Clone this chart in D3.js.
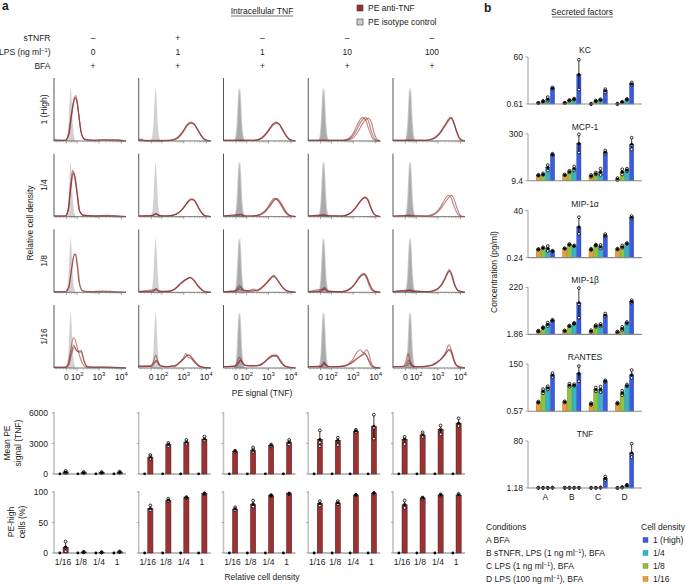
<!DOCTYPE html>
<html><head><meta charset="utf-8">
<script src="https://cdn.jsdelivr.net/npm/d3@7"></script>
<style>body{margin:0;background:#fff}svg{display:block;font-family:"Liberation Sans",Arial,Helvetica,sans-serif}</style>
</head><body><svg id="chart" width="685" height="584"></svg>
<script>
// ---------------- DATA : panel a ----------------
const conditions = [0,1,2,3,4];
const sTNFR = ["–","+","–","–","–"];
const LPS = ["0","1","1","10","100"];
const BFA = ["+","+","+","+","+"];
const densityRows = ["1 (High)","1/4","1/8","1/16"];
const densityBars = ["1/16","1/8","1/4","1"];
const histTickVals = [1.55, 2.03, 3, 4];
const histTickBase = ["0","10","10","10"];
const histTickExp = ["","2","3","4"];
const isoCenters = [[1.74],[1.75],[1.68,1.71,1.74],[1.65,1.68,1.71],[1.73,1.76,1.79]];
const isoPeak = [0.84,0.87,0.86,0.88];
const isoShape = [[-0.23,0],[-0.16,0.07],[-0.1,0.3],[-0.04,0.8],[0,1],[0.04,0.8],[0.1,0.3],[0.16,0.07],[0.23,0]];

const histRow1 = [
 [[[1,.02],[1.15,.01],[1.5,.01],[1.65,.12],[1.78,.45],[1.9,.68],[1.97,.72],[2.07,.5],[2.2,.15],[2.35,.03],[2.7,.01],[3.1,.02],[3.5,.01],[3.8,.02],[4.2,0]],
  [[1,.01],[1.5,.01],[1.65,.1],[1.78,.42],[1.9,.66],[1.98,.69],[2.08,.48],[2.2,.14],[2.35,.03],[2.8,.01],[3.3,.02],[3.7,.01],[4.2,0]],
  [[1,.02],[1.5,.01],[1.66,.1],[1.8,.44],[1.92,.68],[2.0,.66],[2.1,.42],[2.22,.12],[2.4,.02],[3.0,.01],[3.6,.02],[4.2,0]]],
 [[[1,.01],[1.1,.03],[1.2,.01],[1.6,0],[2.4,.01],[2.7,.04],[2.95,.13],[3.15,.24],[3.3,.29],[3.45,.27],[3.6,.19],[3.75,.1],[3.9,.03],[4.05,0],[4.2,0]],
  [[1,.01],[1.1,.02],[1.3,.01],[2.4,.01],[2.7,.05],[2.95,.15],[3.15,.25],[3.32,.28],[3.47,.26],[3.62,.18],[3.78,.08],[3.95,.02],[4.2,0]],
  [[1,.01],[1.6,0],[2.4,.01],[2.7,.04],[2.95,.14],[3.13,.25],[3.28,.3],[3.43,.28],[3.58,.2],[3.74,.1],[3.9,.03],[4.2,0]]],
 [[[1,.01],[1.7,.01],[2.3,.01],[2.6,.03],[2.9,.12],[3.1,.22],[3.28,.29],[3.43,.28],[3.58,.2],[3.75,.1],[3.92,.03],[4.2,0]],
  [[1,.01],[1.7,.01],[2.4,.01],[2.7,.05],[2.95,.15],[3.15,.25],[3.32,.3],[3.47,.27],[3.62,.18],[3.8,.07],[3.95,.02],[4.2,0]],
  [[1,.01],[2.4,.01],[2.7,.04],[2.95,.13],[3.15,.23],[3.35,.28],[3.5,.26],[3.65,.17],[3.82,.07],[4.0,.01],[4.2,0]]],
 [[[1,.01],[2.5,.01],[2.8,.04],[3.0,.12],[3.2,.27],[3.4,.37],[3.55,.33],[3.7,.18],[3.85,.05],[4.0,.01],[4.2,0]],
  [[1,.01],[2.6,.01],[2.9,.05],[3.1,.14],[3.3,.28],[3.53,.37],[3.67,.32],[3.8,.16],[3.95,.04],[4.1,0],[4.2,0]],
  [[1,.01],[2.7,.01],[3.0,.05],[3.2,.14],[3.42,.28],[3.66,.36],[3.8,.3],[3.92,.14],[4.05,.03],[4.2,0]]],
 [[[1,.01],[2.4,.01],[2.7,.03],[3.0,.1],[3.25,.22],[3.45,.34],[3.55,.38],[3.65,.33],[3.8,.18],[3.95,.04],[4.1,0],[4.2,0]],
  [[1,.01],[2.5,.01],[2.8,.04],[3.05,.11],[3.3,.24],[3.5,.35],[3.6,.37],[3.7,.3],[3.85,.13],[4.0,.03],[4.2,0]],
  [[1,.01],[2.5,.01],[2.8,.03],[3.05,.1],[3.3,.23],[3.5,.33],[3.58,.36],[3.68,.31],[3.82,.15],[3.98,.03],[4.2,0]]]
];
const histRow2 = [
 [[[1,.01],[1.5,.01],[1.62,.1],[1.74,.5],[1.83,.74],[1.9,.66],[2.0,.42],[2.12,.1],[2.3,.02],[2.8,.01],[3.4,.02],[3.9,.01],[4.2,0]],
  [[1,.01],[1.5,.01],[1.63,.1],[1.75,.48],[1.85,.7],[1.93,.64],[2.02,.4],[2.14,.09],[2.3,.02],[3.0,.01],[3.6,.01],[4.2,0]],
  [[1,.01],[1.5,.01],[1.64,.12],[1.76,.5],[1.86,.68],[1.95,.6],[2.04,.36],[2.15,.08],[2.35,.02],[4.2,0]]],
 [[[1,.01],[1.5,.01],[1.65,.03],[1.76,.05],[1.9,.02],[2.2,.01],[2.6,.03],[2.9,.1],[3.15,.22],[3.3,.28],[3.45,.26],[3.6,.17],[3.78,.07],[3.95,.01],[4.2,0]],
  [[1,.01],[1.6,.02],[1.76,.04],[1.9,.02],[2.3,.01],[2.65,.04],[2.95,.12],[3.2,.24],[3.35,.27],[3.5,.25],[3.65,.15],[3.82,.05],[4.0,.01],[4.2,0]],
  [[1,.01],[1.65,.02],[1.78,.05],[1.95,.01],[2.5,.02],[2.8,.07],[3.05,.17],[3.25,.26],[3.4,.28],[3.55,.22],[3.72,.1],[3.9,.02],[4.2,0]]],
 [[[1,.01],[1.65,.02],[1.76,.04],[1.9,.01],[2.4,.01],[2.7,.05],[2.95,.14],[3.12,.24],[3.25,.29],[3.4,.26],[3.55,.18],[3.72,.08],[3.9,.02],[4.2,0]],
  [[1,.01],[1.7,.03],[1.8,.03],[2.0,.01],[2.5,.02],[2.8,.07],[3.05,.17],[3.22,.25],[3.36,.29],[3.5,.25],[3.65,.16],[3.82,.06],[4.0,.01],[4.2,0]],
  [[1,.01],[1.75,.03],[2.0,.01],[2.5,.02],[2.8,.06],[3.05,.16],[3.25,.26],[3.32,.28],[3.48,.24],[3.64,.15],[3.8,.06],[4.0,.01],[4.2,0]]],
 [[[1,.01],[1.62,.02],[1.72,.03],[1.85,.01],[2.5,.01],[2.8,.04],[3.05,.12],[3.3,.24],[3.5,.31],[3.62,.28],[3.76,.16],[3.9,.05],[4.05,.01],[4.2,0]],
  [[1,.01],[1.7,.03],[1.85,.01],[2.5,.01],[2.85,.05],[3.1,.13],[3.33,.25],[3.53,.3],[3.65,.26],[3.78,.14],[3.92,.04],[4.2,0]],
  [[1,.01],[1.72,.02],[2.5,.01],[2.85,.05],[3.1,.14],[3.35,.26],[3.55,.31],[3.66,.27],[3.8,.13],[3.95,.03],[4.2,0]]],
 [[[1,.01],[1.7,.02],[1.85,.01],[2.5,.01],[2.8,.04],[3.05,.12],[3.28,.26],[3.45,.34],[3.58,.3],[3.72,.16],[3.88,.04],[4.05,0],[4.2,0]],
  [[1,.01],[1.72,.02],[2.6,.01],[2.9,.05],[3.15,.14],[3.38,.26],[3.6,.34],[3.72,.27],[3.86,.12],[4.0,.02],[4.2,0]]]
];
const histRow3 = [
 [[[1,.01],[1.5,.01],[1.65,.08],[1.78,.38],[1.88,.58],[1.94,.61],[2.02,.45],[2.12,.14],[2.25,.03],[2.6,.01],[3.2,.02],[3.7,.01],[4.2,0]],
  [[1,.01],[1.5,.01],[1.66,.08],[1.8,.4],[1.9,.6],[1.97,.6],[2.05,.42],[2.15,.12],[2.3,.02],[3.0,.01],[4.2,0]]],
 [[[1,.01],[1.6,.01],[1.7,.04],[1.77,.06],[1.86,.03],[2.0,.01],[2.3,.01],[2.55,.04],[2.8,.12],[3.0,.18],[3.15,.21],[3.27,.24],[3.42,.2],[3.58,.13],[3.75,.06],[3.9,.01],[4.2,0]],
  [[1,.01],[1.65,.02],[1.76,.05],[1.9,.02],[2.3,.02],[2.6,.05],[2.85,.14],[3.05,.2],[3.25,.23],[3.4,.21],[3.56,.14],[3.72,.07],[3.9,.02],[4.2,0]],
  [[1,.01],[1.75,.04],[1.95,.01],[2.4,.02],[2.7,.08],[2.95,.16],[3.15,.21],[3.3,.24],[3.45,.19],[3.62,.1],[3.8,.04],[4.0,0],[4.2,0]]],
 [[[1,.01],[1.5,.02],[1.62,.07],[1.71,.11],[1.8,.07],[1.95,.03],[2.2,.02],[2.45,.03],[2.7,.08],[2.95,.17],[3.12,.24],[3.22,.27],[3.35,.22],[3.5,.14],[3.68,.06],[3.85,.02],[4.2,0]],
  [[1,.01],[1.55,.02],[1.66,.06],[1.75,.08],[1.85,.04],[2.05,.02],[2.35,.05],[2.5,.02],[2.75,.09],[3.0,.18],[3.2,.25],[3.32,.23],[3.48,.15],[3.65,.07],[3.82,.02],[4.2,0]],
  [[1,.01],[1.6,.03],[1.72,.05],[1.85,.03],[2.1,.02],[2.6,.04],[2.85,.12],[3.05,.2],[3.25,.26],[3.4,.2],[3.58,.1],[3.78,.03],[4.0,.01],[4.2,0]]],
 [[[1,.01],[1.55,.02],[1.65,.05],[1.72,.08],[1.8,.05],[1.95,.01],[2.5,.01],[2.8,.04],[3.05,.12],[3.28,.24],[3.45,.3],[3.57,.26],[3.7,.14],[3.85,.04],[4.0,.01],[4.2,0]],
  [[1,.01],[1.6,.02],[1.72,.06],[1.85,.02],[2.5,.01],[2.85,.06],[3.1,.15],[3.3,.26],[3.5,.29],[3.62,.24],[3.75,.12],[3.9,.03],[4.2,0]],
  [[1,.01],[1.7,.05],[1.85,.02],[2.6,.01],[2.9,.06],[3.15,.17],[3.35,.26],[3.48,.28],[3.6,.22],[3.72,.1],[3.88,.02],[4.2,0]]],
 [[[1,.01],[1.65,.02],[1.76,.04],[1.9,.01],[2.5,.01],[2.8,.03],[3.05,.08],[3.25,.18],[3.4,.3],[3.49,.36],[3.58,.3],[3.7,.15],[3.85,.04],[4.0,.01],[4.2,0]],
  [[1,.01],[1.7,.03],[1.85,.01],[2.6,.01],[2.9,.04],[3.12,.1],[3.3,.2],[3.45,.32],[3.53,.34],[3.63,.27],[3.75,.12],[3.9,.03],[4.2,0]],
  [[1,.01],[1.75,.03],[2.6,.01],[2.9,.03],[3.1,.09],[3.3,.21],[3.44,.31],[3.52,.33],[3.62,.26],[3.74,.12],[3.88,.03],[4.2,0]]]
];
const histRow4 = [
 [[[1,.01],[1.5,.01],[1.62,.06],[1.75,.3],[1.86,.48],[1.95,.44],[2.05,.3],[2.15,.18],[2.28,.06],[2.45,.01],[3.2,.02],[3.8,.01],[4.2,0]],
  [[1,.01],[1.5,.01],[1.64,.06],[1.77,.26],[1.88,.36],[1.97,.3],[2.07,.26],[2.2,.28],[2.3,.15],[2.45,.03],[2.7,.01],[3.4,.01],[4.2,0]],
  [[1,.01],[1.55,.01],[1.66,.05],[1.78,.22],[1.9,.33],[2.0,.28],[2.12,.25],[2.22,.26],[2.33,.12],[2.5,.02],[4.2,0]]],
 [[[1,.03],[1.5,.03],[1.65,.1],[1.76,.2],[1.86,.1],[2.0,.03],[2.3,.02],[2.5,.04],[2.6,.02],[2.8,.08],[2.95,.14],[3.1,.23],[3.2,.17],[3.3,.16],[3.45,.1],[3.62,.04],[3.8,.01],[4.2,0]],
  [[1,.03],[1.55,.03],[1.68,.08],[1.78,.12],[1.88,.07],[2.0,.03],[2.4,.02],[2.7,.05],[2.9,.11],[3.05,.16],[3.2,.21],[3.32,.18],[3.5,.1],[3.68,.04],[3.85,.01],[4.2,0]],
  [[1,.02],[1.6,.03],[1.72,.09],[1.8,.11],[1.92,.04],[2.2,.02],[2.6,.04],[2.85,.1],[3.0,.15],[3.15,.2],[3.25,.2],[3.4,.14],[3.58,.06],[3.78,.02],[4.2,0]]],
 [[[1,.02],[1.5,.03],[1.62,.1],[1.7,.17],[1.8,.12],[1.92,.05],[2.1,.04],[2.4,.03],[2.65,.05],[2.85,.1],[3.05,.18],[3.15,.2],[3.28,.18],[3.38,.2],[3.5,.14],[3.65,.06],[3.8,.02],[4.2,0]],
  [[1,.02],[1.55,.03],[1.66,.08],[1.74,.12],[1.84,.08],[2.0,.04],[2.3,.04],[2.6,.04],[2.9,.12],[3.1,.17],[3.22,.2],[3.35,.19],[3.48,.13],[3.62,.06],[3.8,.02],[4.2,0]],
  [[1,.02],[1.6,.04],[1.7,.1],[1.78,.13],[1.88,.07],[2.05,.03],[2.5,.04],[2.8,.09],[3.0,.15],[3.12,.18],[3.3,.21],[3.42,.17],[3.56,.09],[3.72,.03],[4.2,0]]],
 [[[1,.02],[1.55,.02],[1.64,.06],[1.7,.1],[1.78,.05],[1.95,.02],[2.4,.02],[2.7,.05],[2.95,.12],[3.15,.24],[3.31,.29],[3.42,.25],[3.55,.22],[3.68,.12],[3.8,.03],[4.0,0],[4.2,0]],
  [[1,.02],[1.6,.03],[1.7,.08],[1.8,.04],[2.0,.02],[2.6,.03],[2.9,.07],[3.15,.14],[3.35,.2],[3.48,.24],[3.6,.29],[3.7,.22],[3.82,.06],[3.95,.01],[4.2,0]],
  [[1,.02],[1.62,.03],[1.7,.07],[1.8,.04],[2.0,.02],[2.6,.03],[2.9,.08],[3.15,.15],[3.35,.19],[3.5,.22],[3.62,.18],[3.75,.08],[3.9,.02],[4.2,0]]],
 [[[1,.02],[1.45,.02],[1.57,.1],[1.67,.23],[1.77,.1],[1.9,.03],[2.2,.02],[2.5,.03],[2.75,.04],[3.0,.1],[3.2,.17],[3.35,.26],[3.49,.37],[3.6,.27],[3.72,.12],[3.85,.03],[4.0,0],[4.2,0]],
  [[1,.02],[1.5,.02],[1.6,.07],[1.7,.12],[1.8,.06],[1.95,.02],[2.4,.02],[2.7,.05],[2.95,.09],[3.2,.16],[3.35,.22],[3.5,.3],[3.6,.26],[3.72,.12],[3.86,.03],[4.2,0]],
  [[1,.02],[1.62,.04],[1.72,.08],[1.82,.04],[2.0,.02],[2.6,.03],[2.9,.07],[3.1,.13],[3.3,.21],[3.45,.28],[3.55,.27],[3.68,.14],[3.82,.04],[4.2,0]]]
];

const meanTicks = [0,3000,6000];
const meanPE = [[200,150,150,180],[1645,2900,3130,3420],[2226,2320,2806,3130],[3420,3320,4225,4710],[3420,3840,4355,5000]];
const meanPEReps = [
 [[120,200,300],[100,150,200],[110,150,190],[130,180,230]],
 [[1870,1710,1480],[3060,2900,2740],[3350,3130,2970],[3680,3420,3290]],
 [[2290,2230,2160],[2610,2420,2160],[2900,2810,2710],[3350,3130,2900]],
 [[4290,3100,2740],[3580,3260,2840],[4350,4230,4130],[5840,4550,3480]],
 [[3650,3390,2935],[4100,3900,3650],[4770,4390,3900],[5480,4940,4710]]];
const isoMeanPE = [20,20,20,20];
const pctTicks = [0,50,100];
const pctHigh = [[9.6,1.5,1,2],[73,86.6,91,97.3],[72,80,94,97.3],[81,82,95,98],[79,90,95,95]];
const pctHighReps = [
 [[18.7,9,2.7],[1,1.5,2],[0.8,1,1.2],[1.5,2,2.5]],
 [[78,72,70],[89,86,85],[91.5,91,90.5],[97.5,97,97.5]],
 [[75,72,70],[86,80,76],[95,94,93.5],[97.5,97.3,97]],
 [[85,81,78],[85,82,80],[95.5,95,94.5],[98.5,98,97.5]],
 [[86,79,74],[91,90,89],[96,95,94.5],[97,95,94]]];
const isoPct = [0,0,0,0];

// ---------------- DATA : panel b ----------------
const factors = ["KC","MCP-1","MIP-1α","MIP-1β","RANTES","TNF"];
const factorMin = [0.61,9.4,0.24,1.86,0.57,1.18];
const factorMax = [60,300,40,220,150,80];
const factorMinLabel = ["0.61","9.4","0.24","1.86","0.57","1.18"];
const factorMaxLabel = ["60","300","40","220","150","80"];
const condB = ["A","B","C","D"];
const densB = ["1/16","1/8","1/4","1 (High)"];
const densColors = ["#f29a32","#8dc43d","#33b4c7","#3b5be0"];
const kcVals = [[0.67,0.79,0.99,2.9],[0.68,0.87,0.99,10.7],[0.62,0.82,0.93,2.25],[0.62,0.74,0.96,4.4]];
const kcReps = [
 [[0.66,0.67,0.68],[0.77,0.79,0.82],[0.85,0.98,1.2],[2.7,2.9,3.1]],
 [[0.67,0.68,0.69],[0.84,0.87,0.9],[0.95,0.99,1.04],[46,10.6,2.5]],
 [[0.61,0.62,0.63],[0.8,0.82,0.85],[0.88,0.93,0.98],[1.9,2.3,2.6]],
 [[0.61,0.62,0.63],[0.72,0.74,0.76],[0.92,0.96,1.0],[3.9,4.4,5.0]]];
const mcpVals = [[14.2,15.3,24.9,66],[14.6,18.6,23.2,144],[13.6,16.1,18.1,78],[10.6,18.1,21,140]];
const mcpReps = [
 [[13.8,14.2,14.6],[14.6,15.3,16.2],[20,25,30],[63,66,69]],
 [[14.2,14.6,15],[17.5,18.6,19.8],[20,23,27],[285,144,75]],
 [[12.8,13.6,14.4],[15,16,17.3],[14.5,18,23],[70,78,88]],
 [[9.8,10.6,11.5],[15,18,22],[19,21,23],[224,130,95]]];
const mip1aVals = [[0.59,0.70,0.65,0.49],[0.65,1.0,0.87,6.7],[0.59,0.93,0.78,2.7],[0.61,0.78,1.12,19.5]];
const mip1aReps = [
 [[0.57,0.59,0.61],[0.66,0.7,0.74],[0.5,0.65,0.85],[0.47,0.49,0.51]],
 [[0.63,0.65,0.67],[0.95,1.0,1.05],[0.84,0.87,0.9],[19.5,6.5,3.2]],
 [[0.55,0.59,0.63],[0.88,0.93,0.98],[0.65,0.78,0.95],[2.4,2.7,3.1]],
 [[0.58,0.61,0.64],[0.7,0.78,0.9],[1.08,1.12,1.16],[17,19.5,22]]];
const mip1bVals = [[2.62,3.7,5.2,7.8],[2.7,4.4,5.7,47],[2.62,4.4,4.8,13.4],[2.4,3.4,6.1,53]];
const mip1bReps = [
 [[2.5,2.62,2.75],[3.5,3.7,3.9],[4.3,5.2,6.2],[7.4,7.8,8.2]],
 [[2.6,2.7,2.8],[4.2,4.4,4.6],[5.4,5.7,6.0],[205,40,10.2]],
 [[2.4,2.62,2.85],[4.0,4.4,4.8],[4.2,4.8,5.4],[11.5,13.4,15.5]],
 [[2.3,2.4,2.5],[2.9,3.4,4.0],[5.6,6.1,6.6],[47,53,60]]];
const rantesVals = [[1.67,6.2,9.2,41.8],[1.73,12.7,12.7,48.8],[1.36,7.5,7.5,20.4],[1.48,5.0,12.1,41.8]];
const rantesReps = [
 [[1.55,1.67,1.8],[4.8,6.2,7.8],[7.5,9.2,11],[33,42,52]],
 [[1.6,1.73,1.85],[10.5,12.7,15],[11.5,12.7,14],[120,49,20]],
 [[1.2,1.36,1.5],[6,7.5,9.5],[5.5,7.5,10.5],[18.5,20.4,22.5]],
 [[1.35,1.48,1.6],[3.8,5.0,6.5],[11,12.1,13.5],[30,42,75]]];
const tnfVals = [[1.2,1.2,1.2,1.21],[1.2,1.2,1.2,1.2],[1.2,1.2,1.22,2.8],[1.19,1.25,1.51,27.7]];
const tnfReps = [
 [[1.19,1.2,1.21],[1.19,1.2,1.21],[1.19,1.2,1.21],[1.2,1.21,1.22]],
 [[1.19,1.2,1.21],[1.19,1.2,1.21],[1.19,1.2,1.21],[1.19,1.2,1.21]],
 [[1.19,1.2,1.21],[1.19,1.2,1.21],[1.2,1.22,1.24],[2.4,2.8,3.3]],
 [[1.18,1.19,1.2],[1.22,1.25,1.28],[1.45,1.51,1.58],[19,25,63]]];
const conditionText = ["BFA","sTNFR, LPS (1 ng ml|−1|), BFA","LPS (1 ng ml|−1|), BFA","LPS (100 ng ml|−1|), BFA"];
const legendDens = ["1 (High)","1/4","1/8","1/16"];
const legendDensColors = ["#3b5be0","#33b4c7","#8dc43d","#f29a32"];

// ---------------- DRAWING ----------------
const svg = d3.select("#chart");
const FS = 8.5, INK = "#1a1a1a", RED = "#9c3232";

function supText(sel, parts, size) {
  parts.split("|").forEach((p, i) => {
    if (!p) return;
    const t = sel.append("tspan").text(p);
    if (i % 2 === 1) t.attr("font-size", size*0.68).attr("dy", -size*0.38);
    else if (i > 0) t.attr("dy", size*0.38);
  });
  return sel;
}
function label(x, y, s, o = {}) {
  const t = svg.append("text").attr("x", x).attr("y", y)
    .attr("font-size", o.size || FS).attr("fill", INK)
    .attr("text-anchor", o.anchor || "start")
    .attr("font-weight", o.bold ? "bold" : null);
  if (o.rotate) t.attr("transform", `rotate(-90,${x},${y})`);
  supText(t, s, o.size || FS);
  return t;
}

// panel letters, titles
label(2, 10, "a", {size: 12, bold: true});
label(484, 12, "b", {size: 12, bold: true});
label(262, 14, "Intracellular TNF", {anchor: "middle"});
svg.append("line").attr("x1", 231).attr("x2", 293).attr("y1", 16).attr("y2", 16).attr("stroke", INK).attr("stroke-width", 0.6);
label(582, 15, "Secreted factors", {anchor: "middle"});
svg.append("line").attr("x1", 552).attr("x2", 613).attr("y1", 17).attr("y2", 17).attr("stroke", INK).attr("stroke-width", 0.6);

// legend a
[["PE anti-TNF", RED], ["PE isotype control", "#cfcfcf"]].forEach((d, i) => {
  svg.append("rect").attr("x", 357).attr("y", 5 + i*14).attr("width", 6).attr("height", 6)
    .attr("fill", d[1]).attr("stroke", "#333").attr("stroke-width", 0.6);
  label(368, 11 + i*14, d[0]);
});

// scales panel a
const colX = d3.scaleBand().domain(conditions).range([54, 465]).paddingInner(0.15).paddingOuter(0);
const rowY = d3.scaleBand().domain(d3.range(4)).range([78, 368]).paddingInner(0.168);
const W = colX.bandwidth(), H = rowY.bandwidth();
const ux = d3.scaleLinear().domain([1.0, 4.2]).range([0, W]);
const hy = d3.scaleLinear().domain([0, 1]).range([H, 0]);

// header rows
label(50.5, 41, "sTNFR", {anchor: "end"});
label(50.5, 55, "LPS (ng ml|−1|)", {anchor: "end"});
label(50.5, 69, "BFA", {anchor: "end"});
conditions.forEach(c => {
  const x = colX(c) + 39;
  label(x, 41, sTNFR[c], {anchor: "middle"});
  label(x, 55, LPS[c], {anchor: "middle"});
  label(x, 69, BFA[c], {anchor: "middle"});
});

// histograms
const histRows = [histRow1, histRow2, histRow3, histRow4];
const isoArea = d3.area().x(d => ux(d[0])).y0(H).y1(d => hy(d[1])).curve(d3.curveMonotoneX);
const curveLine = d3.line().x(d => ux(d[0])).y(d => hy(d[1])).curve(d3.curveMonotoneX);
const minorTicks = [];
[1, 2, 3].forEach(dec => d3.range(2, 10).forEach(k => { const v = dec + Math.log10(k); if (v > 1.65 && v < 4.2) minorTicks.push(v); }));
[1.1, 1.25, 1.4].forEach(v => minorTicks.push(v));

histRows.forEach((row, r) => {
  conditions.forEach(c => {
    const g = svg.append("g").attr("transform", `translate(${colX(c)},${rowY(r)})`);
    isoCenters[c].forEach(ctr => {
      g.append("path").attr("d", isoArea(isoShape.map(p => [ctr + p[0], p[1]*isoPeak[r]])))
        .attr("fill", "#9a9a9a").attr("fill-opacity", 0.45);
    });
    row[c].forEach(cv => {
      g.append("path").attr("d", curveLine(cv)).attr("fill", "none")
        .attr("stroke", "#8a2727").attr("stroke-opacity", 0.55).attr("stroke-width", 1.15);
    });
    g.append("line").attr("x1", 0).attr("x2", 0).attr("y1", 0).attr("y2", H).attr("stroke", "#555").attr("stroke-width", 1);
    g.append("line").attr("x1", 0).attr("x2", W).attr("y1", H).attr("y2", H).attr("stroke", "#666").attr("stroke-width", 0.9);
    histTickVals.forEach(v => g.append("line").attr("x1", ux(v)).attr("x2", ux(v)).attr("y1", H).attr("y2", H + 2.5).attr("stroke", "#666").attr("stroke-width", 0.6));
    minorTicks.forEach(v => g.append("line").attr("x1", ux(v)).attr("x2", ux(v)).attr("y1", H).attr("y2", H + 1.5).attr("stroke", "#888").attr("stroke-width", 0.5));
    if (r === 3) {
      histTickVals.forEach((v, i) => {
        const t = g.append("text").attr("x", ux(v)).attr("y", H + 12).attr("font-size", 8.5).attr("fill", INK).attr("text-anchor", "middle");
        t.append("tspan").text(histTickBase[i]);
        if (histTickExp[i]) t.append("tspan").text(histTickExp[i]).attr("font-size", 6).attr("dy", -3.5);
      });
    }
  });
  label(47, rowY(r) + H/2, densityRows[r], {anchor: "middle", rotate: true});
});
label(33, (78 + 368)/2, "Relative cell density", {anchor: "middle", rotate: true});
label(262, 396, "PE signal (TNF)", {anchor: "middle"});

// bar panels in a
const xg = d3.scaleBand().domain(densityBars).range([0, W]);
const xs = d3.scaleBand().domain(["iso", "anti"]).range([3, 14.5]);
const yMean = d3.scaleLinear().domain([0, 6000]).range([474, 413]);
const yPct = d3.scaleLinear().domain([0, 100]).range([553, 492]);

function dots(g, cx, y, reps, mean) {
  const ext = d3.extent(reps);
  g.append("line").attr("x1", cx).attr("x2", cx).attr("y1", y(ext[0])).attr("y2", y(ext[1])).attr("stroke", "#000").attr("stroke-width", 0.8);
  reps.forEach(v => g.append("circle").attr("cx", cx).attr("cy", y(v)).attr("r", 1.4).attr("fill", "#fff").attr("stroke", "#000").attr("stroke-width", 0.8));
  g.append("circle").attr("cx", cx).attr("cy", y(mean)).attr("r", 1.3).attr("fill", "#000");
}

function barPanel(y, vals, reps, iso, ticks, yl1, yl2, ylx) {
  conditions.forEach(c => {
    const g = svg.append("g").attr("transform", `translate(${colX(c)},0)`);
    g.append("line").attr("x1", 0).attr("x2", 0).attr("y1", y(ticks[2]) - 1).attr("y2", y(0)).attr("stroke", "#c2c2c2").attr("stroke-width", 1.6);
    g.append("line").attr("x1", 0).attr("x2", W).attr("y1", y(0)).attr("y2", y(0)).attr("stroke", "#7a7a7a").attr("stroke-width", 1.1);
    ticks.forEach(t => {
      g.append("line").attr("x1", -2).attr("x2", 0).attr("y1", y(t)).attr("y2", y(t)).attr("stroke", "#888").attr("stroke-width", 0.7);
      if (c === 0) g.append("text").attr("x", -6).attr("y", y(t) + 3).attr("font-size", FS).attr("fill", INK).attr("text-anchor", "end").text(t);
    });
    densityBars.forEach((d, i) => {
      const xa = xg(d) + xs("anti"), xi = xg(d) + xs("iso");
      const v = vals[c][i];
      g.append("rect").attr("x", xa + 0.3).attr("width", xs.bandwidth() - 0.6).attr("y", y(v)).attr("height", y(0) - y(v))
        .attr("fill", RED).attr("stroke", "#4a1515").attr("stroke-width", 0.5);
      dots(g, xa + xs.bandwidth()/2, y, reps[c][i], v);
      g.append("circle").attr("cx", xi + xs.bandwidth()/2).attr("cy", y(iso[i])).attr("r", 1.4).attr("fill", "#000");
    });
  });
  label(ylx, yl1[1], yl1[0], {anchor: "middle", rotate: true});
  label(ylx + 11, yl2[1], yl2[0], {anchor: "middle", rotate: true});
}
barPanel(yMean, meanPE, meanPEReps, isoMeanPE, meanTicks, ["Mean PE", 443], ["signal (TNF)", 443], 10);
barPanel(yPct, pctHigh, pctHighReps, isoPct, pctTicks, ["PE-high", 522], ["cells (%)", 522], 14);
conditions.forEach(c => densityBars.forEach(d => {
  label(colX(c) + xg(d) + xg.bandwidth()/2, 565, d, {anchor: "middle"});
}));
label(262, 580, "Relative cell density", {anchor: "middle"});

// ---------------- panel b ----------------
const factorVals = [kcVals, mcpVals, mip1aVals, mip1bVals, rantesVals, tnfVals];
const factorReps = [kcReps, mcpReps, mip1aReps, mip1bReps, rantesReps, tnfReps];
const bBand = d3.scaleBand().domain(factors).range([57, 488]).paddingInner(0.388);
const gx = d3.scaleBand().domain(condB).range([536, 634]).paddingInner(0.285);
const dx = d3.scaleBand().domain(densB).range([0, gx.bandwidth()]);
const AX = 528, AXR = 642;
factors.forEach((f, fi) => {
  const top = bBand(f), bot = top + bBand.bandwidth();
  const y = d3.scaleLog().domain([factorMin[fi], factorMax[fi]]).range([bot, top]);
  const g = svg.append("g");
  label(585, top - 4, f, {anchor: "middle"});
  condB.forEach((cd, ci) => {
    densB.forEach((dd, di) => {
      const v = factorVals[fi][ci][di];
      const x = gx(cd) + dx(dd);
      g.append("rect").attr("x", x + 0.25).attr("width", dx.bandwidth() - 0.5).attr("y", y(v)).attr("height", Math.max(0, bot - y(v)))
        .attr("fill", densColors[di]).attr("stroke", d3.color(densColors[di]).darker(1.2)).attr("stroke-width", 0.4);
    });
  });
  condB.forEach((cd, ci) => densB.forEach((dd, di) => {
    const cx = gx(cd) + dx(dd) + dx.bandwidth()/2;
    dots(g, cx, y, factorReps[fi][ci][di], factorVals[fi][ci][di]);
  }));
  g.append("line").attr("x1", AX).attr("x2", AX).attr("y1", top).attr("y2", bot).attr("stroke", "#9a9a9a").attr("stroke-width", 1);
  g.append("line").attr("x1", AX).attr("x2", AXR).attr("y1", bot).attr("y2", bot).attr("stroke", "#8a8a8a").attr("stroke-width", 1.1);
  [[factorMax[fi], factorMaxLabel[fi]], [factorMin[fi], factorMinLabel[fi]]].forEach(t => {
    g.append("line").attr("x1", AX - 2.5).attr("x2", AX).attr("y1", y(t[0])).attr("y2", y(t[0])).attr("stroke", "#888").attr("stroke-width", 0.7);
    label(AX - 5, y(t[0]) + 3, t[1], {anchor: "end"});
  });
  if (fi === factors.length - 1) condB.forEach(cd => label(gx(cd) + gx.bandwidth()/2, bot + 12, cd, {anchor: "middle"}));
});
label(497, 272, "Concentration (pg/ml)", {anchor: "middle", rotate: true});

// legend b
label(486, 530, "Conditions");
condB.forEach((cd, i) => {
  label(486, 543 + i*13, cd + "  " + conditionText[i]);
});
label(641, 530, "Cell density");
legendDens.forEach((d, i) => {
  svg.append("rect").attr("x", 643).attr("y", 537.5 + i*13).attr("width", 5).attr("height", 5)
    .attr("fill", legendDensColors[i]).attr("stroke", d3.color(legendDensColors[i]).darker(1)).attr("stroke-width", 0.4);
  label(653, 543 + i*13, d);
});
</script></body></html>
